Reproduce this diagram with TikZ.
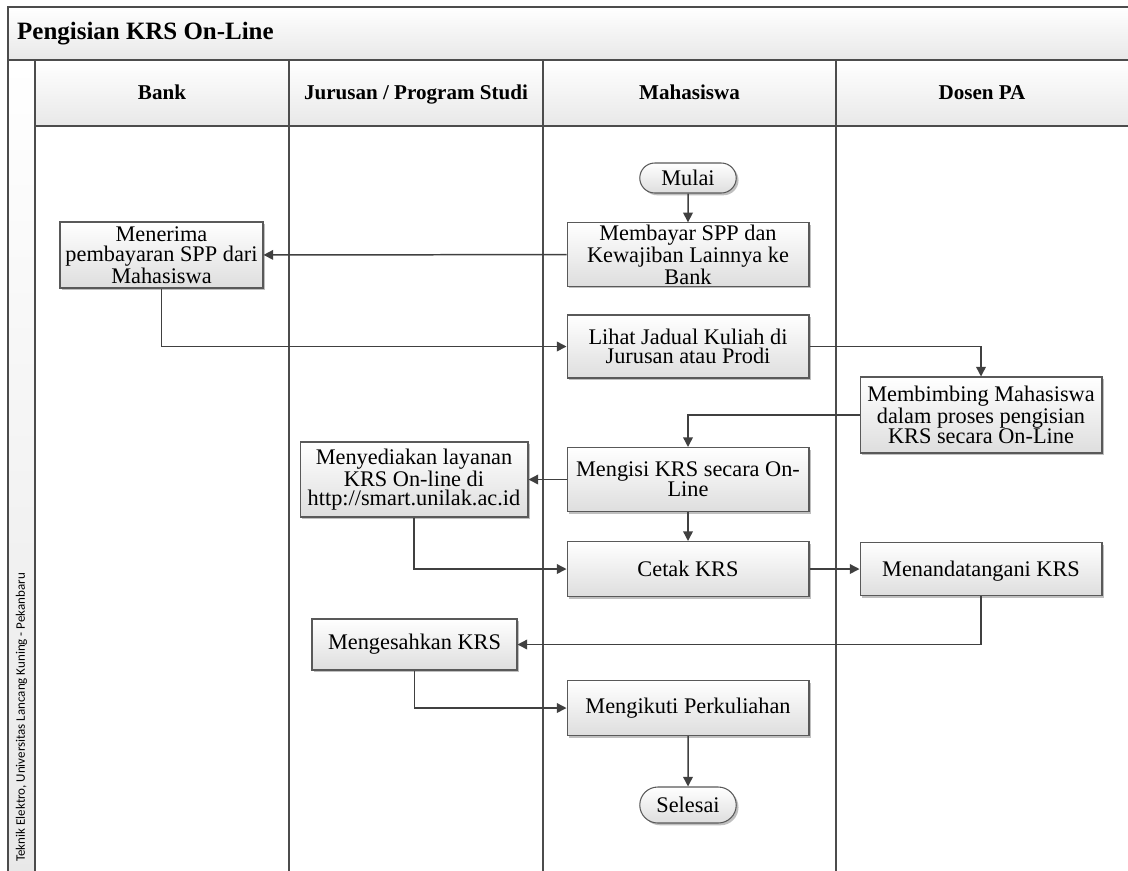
\documentclass[tikz,border=0pt]{standalone}
\usepackage{fontspec}
\setmainfont{Liberation Serif}
\newfontfamily\sidefont{Carlito}
\usetikzlibrary{arrows.meta,shapes.misc,shadows}

\tikzset{
    flowline/.style={draw=black!75, line width=0.85pt, -{Triangle[length=5.5pt,width=5.5pt]}},
    laneline/.style={draw=black!70, line width=1.1pt},
    band/.style={draw=black!70, line width=1.1pt, top color=white, bottom color=black!9},
    lanehead/.style={anchor=base, font=\bfseries\fontsize{12}{13}\selectfont},
    prosesbox/.style={draw=black!65, line width=0.6pt, top color=white, bottom color=black!13,
        drop shadow={shadow xshift=1.3pt, shadow yshift=-1.3pt, fill=black, opacity=0.25},
        align=center, inner sep=1pt, minimum width=4.84cm,
        font=\fontsize{12.7}{11.2}\selectfont},
    terminal/.style={prosesbox, rounded rectangle, minimum width=2cm, minimum height=0.6cm}
}

\begin{document}
\begin{tikzpicture}[x=0.02cm, y=-0.02cm]
    \useasboundingbox (0,0) rectangle (1128,870);

    % --- Rahmen und Bahnen ---
    % Judul
    \draw[band] (8,7) rectangle (1135,60);
    \node[anchor=west, font=\bfseries\fontsize{14.2}{16}\selectfont] (judul) at (11,34) {Pengisian KRS On-Line};
    % Kolom kiri
    \draw[band] (8,60) rectangle (35,880);
    \node[rotate=90, anchor=west, font=\sidefont\fontsize{7.4}{8}\selectfont, inner sep=0pt] (instansi) at (21.5,862)
        {Teknik Elektro, Universitas Lancang Kuning - Pekanbaru};
    % Kepala bahan
    \draw[band] (35,60) rectangle (1135,126);
    \draw[laneline] (289,60) -- (289,880);
    \draw[laneline] (543,60) -- (543,880);
    \draw[laneline] (836,60) -- (836,880);
    \node[lanehead] (hbank) at (162,99) {Bank};
    \node[lanehead] (hjurusan) at (416,99) {Jurusan / Program Studi};
    \node[lanehead] (hmhs) at (689.5,99) {Mahasiswa};
    \node[lanehead] (hdosen) at (982,99) {Dosen PA};

    % --- Langkah-langkah ---
    \node[terminal] (mulai) at (688,178) {Mulai};
    \node[prosesbox, minimum height=1.26cm] (membayar) at (688,254.5)
        {Membayar SPP dan\\Kewajiban Lainnya ke\\Bank};
    \node[prosesbox, minimum width=4.06cm, minimum height=1.32cm] (menerima) at (161.5,255)
        {Menerima\\pembayaran SPP dari\\Mahasiswa};
    \node[prosesbox, minimum height=1.26cm] (lihat) at (688,346.5)
        {Lihat Jadual Kuliah di\\Jurusan atau Prodi};
    \node[prosesbox, minimum height=1.52cm] (membimbing) at (981,415)
        {Membimbing Mahasiswa\\dalam proses pengisian\\KRS secara On-Line};
    \node[prosesbox, minimum height=1.28cm] (mengisi) at (688,479.5)
        {Mengisi KRS secara On-\\Line};
    \node[prosesbox, minimum width=4.56cm, minimum height=1.5cm] (menyediakan) at (414,479.5)
        {Menyediakan layanan\\KRS On-line di\\http://smart.unilak.ac.id};
    \node[prosesbox, minimum height=1.1cm] (cetak) at (688,569) {Cetak KRS};
    \node[prosesbox, minimum height=1.06cm, text depth=0pt] (tandatangan) at (981,569) {Menandatangani KRS};
    \node[prosesbox, minimum width=4.1cm, minimum height=1.02cm] (mengesahkan) at (414.5,644.5) {Mengesahkan KRS};
    \node[prosesbox, minimum height=1.1cm] (mengikuti) at (688,708) {Mengikuti Perkuliahan};
    \node[terminal, minimum height=0.72cm] (selesai) at (688,805) {Selesai};

    % --- Alur ---
    \draw[flowline] (mulai) -- (membayar);
    \draw[flowline] (membayar) -- (menerima);
    \draw[flowline] (menerima.south) |- (lihat.west);
    \draw[flowline] (lihat.east) -| (membimbing.north);
    \draw[flowline] (membimbing.west) -| (mengisi.north);
    \draw[flowline] (mengisi) -- (menyediakan);
    \draw[flowline] (mengisi) -- (cetak);
    \draw[flowline] (menyediakan.south) |- (cetak.west);
    \draw[flowline] (cetak) -- (tandatangan);
    \draw[flowline] (tandatangan.south) |- (mengesahkan.east);
    \draw[flowline] (mengesahkan.south) |- (mengikuti.west);
    \draw[flowline] (mengikuti) -- (selesai);
\end{tikzpicture}
\end{document}
